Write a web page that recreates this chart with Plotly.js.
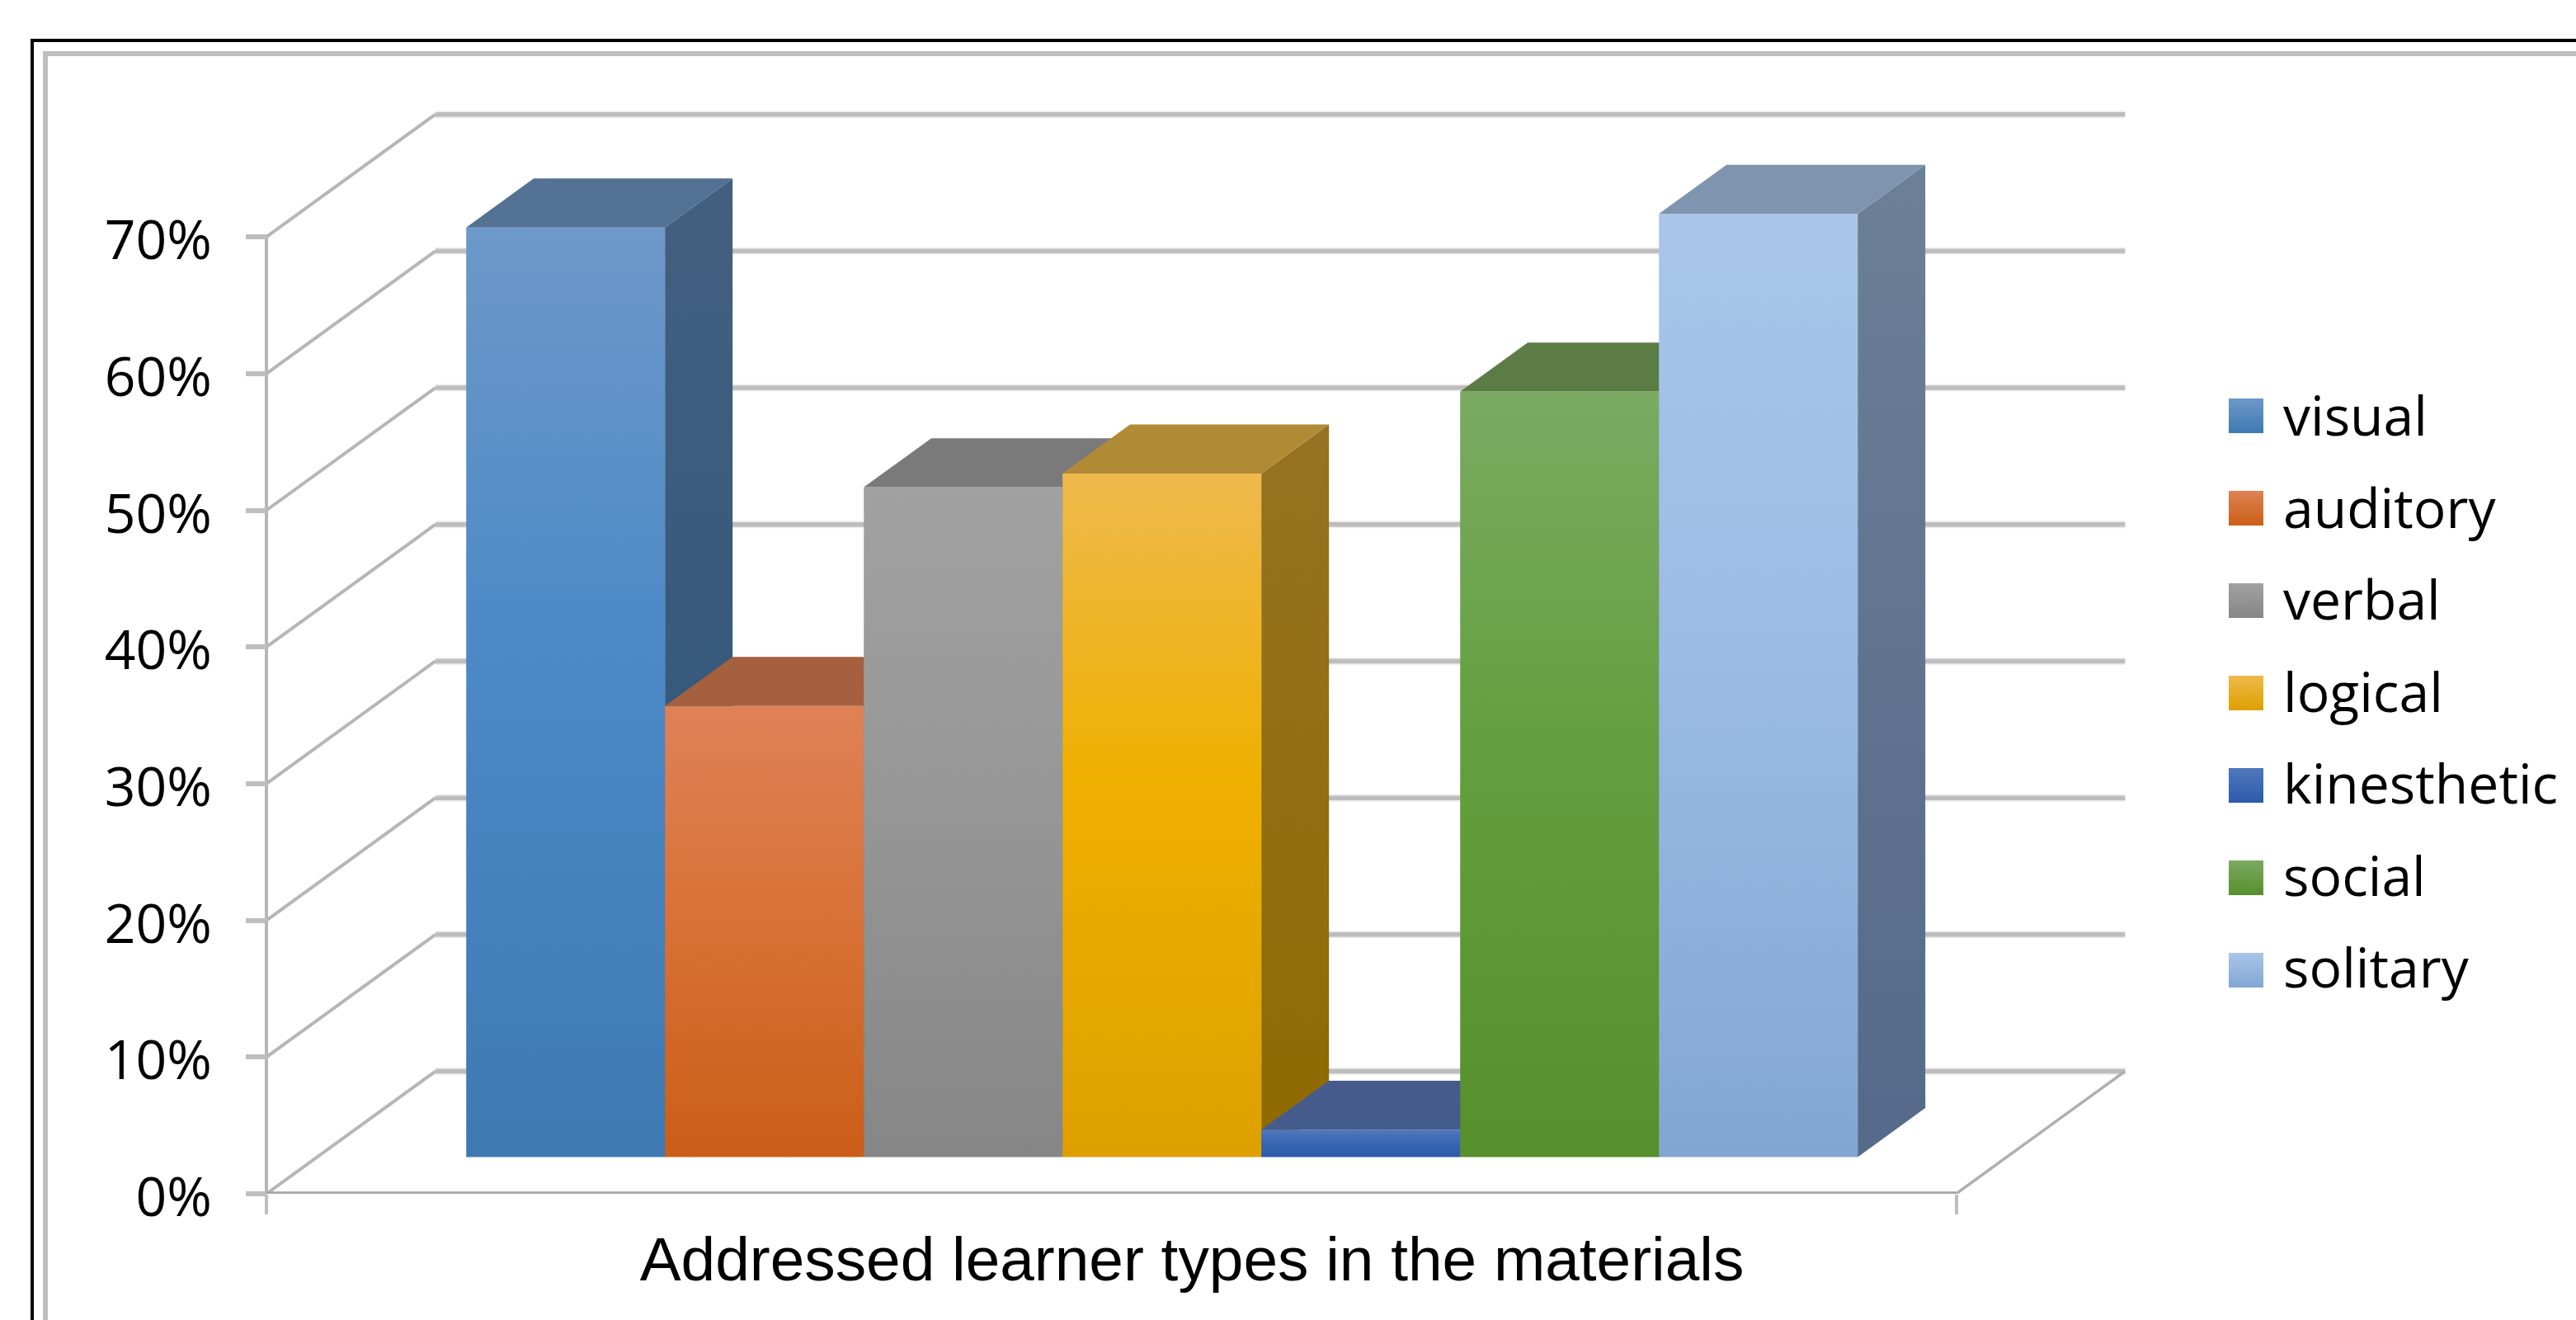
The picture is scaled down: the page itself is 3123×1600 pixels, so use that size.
<!DOCTYPE html>
<html><head><meta charset="utf-8">
<script src="https://cdn.plot.ly/plotly-3.0.1.min.js"></script>
<style>html,body{margin:0;padding:0;background:#fff}</style>
</head><body><div id="chart"></div>
<script>
// DATA
const categories = ['visual','auditory','verbal','logical','kinesthetic','social','solitary'];
const values = [68,33,49,50,2,56,69];
const yTicks = [0,10,20,30,40,50,60,70];
const xTitle = 'Addressed learner types in the materials';
// STYLE
const frontTop = ['#6D98C8','#DE8256','#A1A1A1','#EEB94C','#5078BC','#7BAA62','#A9C6E9'];
const frontMid = ['#4B89C7','#D97238','#979797','#EFB000','#3A66B2','#649F3F','#9CBCE6'];
const frontBot = ['#3E79B2','#CB5E17','#868686','#DEA000','#2C5AAB','#578F2C','#82A6D3'];
const topFace  = ['#537193','#A5603F','#7A7A7A','#B18A36','#445B8C','#5C7C46','#7F94AE'];
const sideTop  = ['#435F80','#8C4E2A','#6C6C6C','#967222','#36507E','#4B6E33','#6B7F96'];
const sideBot  = ['#2D5578','#7C3D0E','#5A5A5A','#8F6A00','#1F3F78','#3A6110','#55698A'];
const W = 3123, H = 1600, M = {l:0, r:0, t:120, b:153};
const PX_X0 = 323, PX_PER_UNIT = 241, PX_PER_PCT = 16.57;
const PLOT_L = 310, PLOT_R = 2580;    // main subplot span, centred on the axis title
const DX = 0.85, DY = 8.96;           // shear of full depth in axis units
const Z0 = 0.30, Z1 = 0.70;           // bar depth span
const GAP = 0.75;                     // left gap in bar widths
const floorEnd = GAP*2 + categories.length;
const projX = (x,z) => x + z*DX, projY = (y,z) => y + z*DY;
const plotH = H-M.t-M.b;

const traces = [];
// walls and floor
(function(){
  const gx=[],gy=[],dx=[],dy=[];
  yTicks.forEach(t=>{
    gx.push(projX(0,1),projX(floorEnd,1),null); gy.push(projY(t,1),projY(t,1),null);
    dx.push(projX(0,0),projX(0,1),null);        dy.push(projY(t,0),projY(t,1),null);
  });
  const base={mode:'lines',hoverinfo:'skip',showlegend:false,cliponaxis:false};
  traces.push(Object.assign({},base,{x:gx,y:gy,line:{color:'#EDEDED',width:9}}));
  traces.push(Object.assign({},base,{x:gx,y:gy,line:{color:'#BDBDBD',width:5.5}}));
  traces.push(Object.assign({},base,{x:dx,y:dy,line:{color:'#B6B6B6',width:4}}));
  traces.push(Object.assign({},base,{x:[projX(floorEnd,0),projX(floorEnd,1)],y:[projY(0,0),projY(0,1)],line:{color:'#B0B0B0',width:3.5}}));
  traces.push(Object.assign({},base,{x:[0,0],y:[0,yTicks[yTicks.length-1]],line:{color:'#B6B6B6',width:4}}));
  traces.push(Object.assign({},base,{x:[0,floorEnd],y:[0,0],line:{color:'#A4A4A4',width:5.5}}));
})();
// bars
categories.forEach((c,i)=>{
  const v=values[i], a=GAP+i, b=a+1;
  const poly={mode:'lines',line:{width:0},fill:'toself',hoverinfo:'skip',showlegend:false,cliponaxis:false};
  traces.push(Object.assign({},poly,{
    x:[projX(a,Z0),projX(b,Z0),projX(b,Z0),projX(a,Z0),projX(a,Z0)],
    y:[projY(0,Z0),projY(0,Z0),projY(v,Z0),projY(v,Z0),projY(0,Z0)],
    fillcolor:frontMid[i],
    fillgradient:{type:'vertical',colorscale:[[0,frontBot[i]],[0.55,frontMid[i]],[1,frontTop[i]]]}
  }));
  traces.push(Object.assign({},poly,{
    x:[projX(b,Z0),projX(b,Z1),projX(b,Z1),projX(b,Z0),projX(b,Z0)],
    y:[projY(0,Z0),projY(0,Z1),projY(v,Z1),projY(v,Z0),projY(0,Z0)],
    fillcolor:sideBot[i],
    fillgradient:{type:'vertical',colorscale:[[0,sideBot[i]],[1,sideTop[i]]]}
  }));
  traces.push(Object.assign({},poly,{
    x:[projX(a,Z0),projX(b,Z0),projX(b,Z1),projX(a,Z1),projX(a,Z0)],
    y:[projY(v,Z0),projY(v,Z0),projY(v,Z1),projY(v,Z1),projY(v,Z0)],
    fillcolor:topFace[i]
  }));
});
// legend: native entries with an empty glyph, and large keys on a page-wide helper subplot
const KEY_PX_X = 2723, KEY_PX_Y = 504, KEY_PX_STEP = 112;
categories.forEach((c,i)=>{
  traces.push({name:c,legendgroup:c,mode:'markers',hoverinfo:'skip',showlegend:false,xaxis:'x2',yaxis:'y2',
    x:[KEY_PX_X],y:[KEY_PX_Y+i*KEY_PX_STEP],
    marker:{symbol:'square',size:42,color:frontTop[i],line:{width:0},
            gradient:{type:'vertical',color:frontBot[i]}}});
  traces.push({name:c,legendgroup:c,mode:'markers',hoverinfo:'skip',showlegend:true,xaxis:'x2',yaxis:'y2',
    x:[KEY_PX_X],y:[KEY_PX_Y+i*KEY_PX_STEP],
    marker:{symbol:'square',size:1,color:'rgba(0,0,0,0)',line:{width:0}}});
});
const layout={
  width:W,height:H,margin:M,paper_bgcolor:'#fff',plot_bgcolor:'rgba(0,0,0,0)',
  showlegend:true,
  legend:{x:2680/W,y:(H-M.b-453)/plotH,xanchor:'left',yanchor:'top',
    bgcolor:'rgba(0,0,0,0)',font:{family:'"Open Sans",sans-serif',size:66,color:'#000'},
    tracegroupgap:22.7,itemwidth:78,itemclick:false,itemdoubleclick:false},
  xaxis:{domain:[PLOT_L/W,PLOT_R/W],anchor:'y',
    range:[(PLOT_L-PX_X0)/PX_PER_UNIT,(PLOT_R-PX_X0)/PX_PER_UNIT],showgrid:false,zeroline:false,showline:false,
    tickmode:'array',tickvals:[0,floorEnd],ticktext:['',''],ticks:'outside',ticklen:24,tickwidth:4,tickcolor:'#BEBEBE',
    title:{text:xTitle,font:{family:'"Liberation Sans",Arial,sans-serif',size:74.8,color:'#000'},standoff:26}},
  yaxis:{anchor:'free',position:PX_X0/W,range:[0,plotH/PX_PER_PCT],showgrid:false,zeroline:false,showline:false,
    tickmode:'array',tickvals:yTicks,ticktext:yTicks.map(t=>t+'%'),ticks:'outside',ticklen:25,tickwidth:5.5,tickcolor:'#BEBEBE',
    ticklabelstandoff:28,ticklabelshift:4,
    tickfont:{family:'"Open Sans",sans-serif',size:66,color:'#000'}},
  xaxis2:{domain:[0,1],anchor:'y2',range:[0,W],visible:false,fixedrange:true},
  yaxis2:{domain:[0,1],anchor:'x2',range:[H-M.b,M.t],visible:false,fixedrange:true},
  shapes:[
    {type:'rect',layer:'below',xref:'paper',yref:'paper',x0:39/W,x1:3300/W,y0:(H-M.b-1800)/plotH,y1:(H-M.b-49)/plotH,line:{color:'#000',width:4}},
    {type:'rect',layer:'below',xref:'paper',yref:'paper',x0:55/W,x1:3300/W,y0:(H-M.b-1800)/plotH,y1:(H-M.b-65)/plotH,line:{color:'#BFBFBF',width:6}}
  ]
};
Plotly.newPlot('chart',traces,layout,{displayModeBar:false,responsive:false});
</script></body></html>
